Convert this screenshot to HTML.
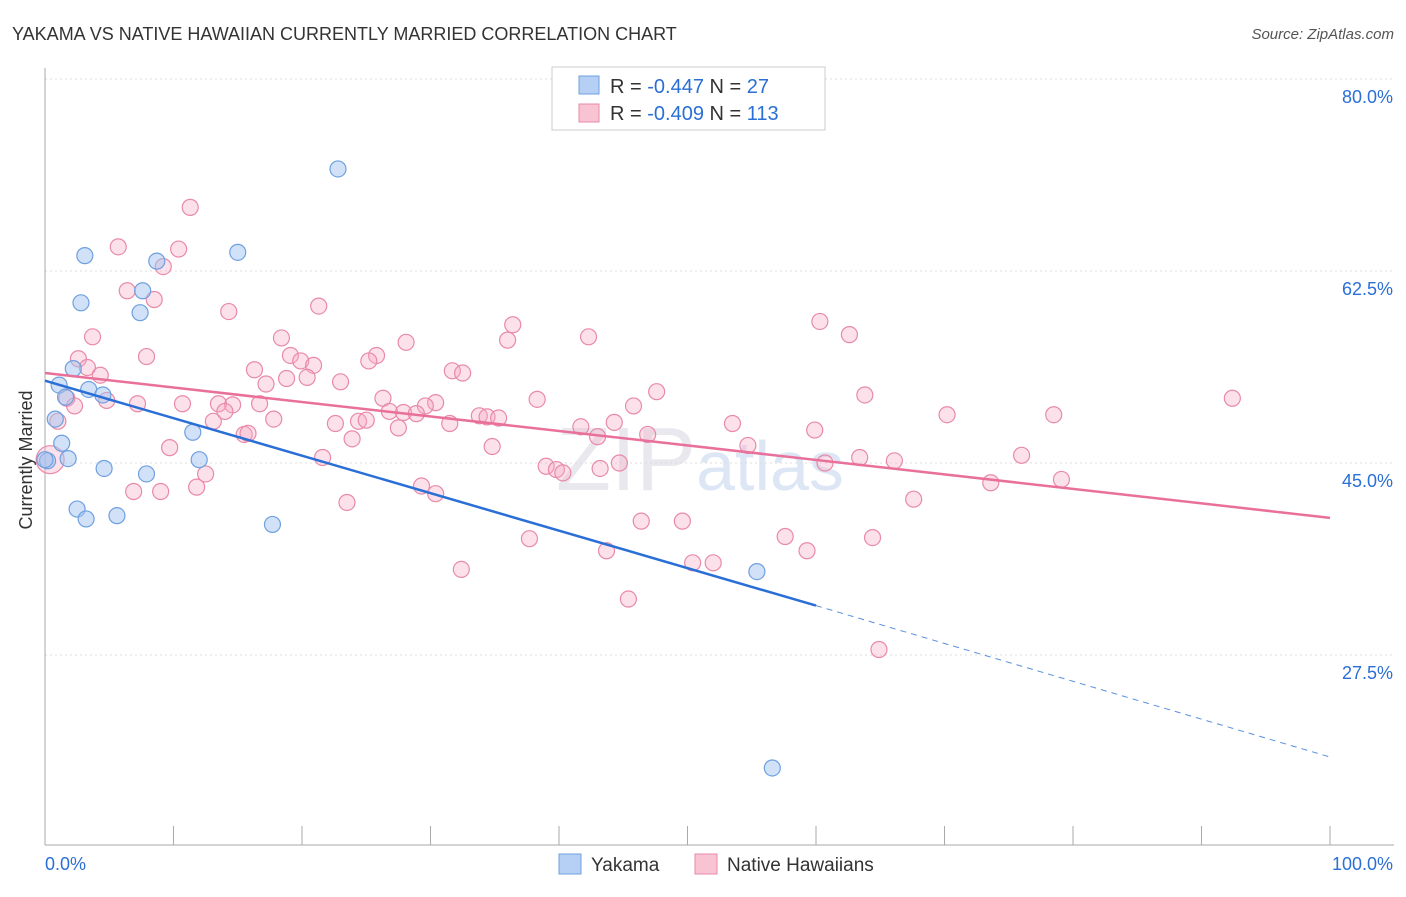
<!DOCTYPE html>
<html><head><meta charset="utf-8"><style>
body{margin:0;background:#fff;font-family:"Liberation Sans",sans-serif;}
svg text{font-family:"Liberation Sans",sans-serif;}
</style></head><body>
<svg id="chart" width="1406" height="892">
<text x="12" y="40" font-size="18" fill="#333">YAKAMA VS NATIVE HAWAIIAN CURRENTLY MARRIED CORRELATION CHART</text>
<text x="1394" y="39" font-size="15" fill="#555" text-anchor="end" font-style="italic">Source: ZipAtlas.com</text>
<text x="32" y="460" font-size="18" fill="#333" text-anchor="middle" transform="rotate(-90 32 460)">Currently Married</text>
<text x="700" y="490" font-size="90" fill="#e8e8ee" text-anchor="middle" font-family="Liberation Serif">ZIP<tspan fill="#dce6f4" font-family="Liberation Sans" font-size="70">atlas</tspan></text>
<g id="grid"></g><g id="pts"></g><g id="lines"></g>
<g>
<rect x="552" y="67" width="273" height="63" fill="#fff" stroke="#ccc"/>
<rect x="579" y="76" width="20" height="18" fill="#b5d0f4" stroke="#6fa0e0"/>
<rect x="579" y="104" width="20" height="18" fill="#f8c4d4" stroke="#e88aa8"/>
<text x="610" y="93" font-size="20" fill="#333">R = <tspan fill="#2a6fd6">-0.447</tspan>   N = <tspan fill="#2a6fd6"> 27</tspan></text>
<text x="610" y="120" font-size="20" fill="#333">R = <tspan fill="#2a6fd6">-0.409</tspan>   N = <tspan fill="#2a6fd6">113</tspan></text>
</g>
<g>
<rect x="559" y="854" width="22" height="20" fill="#b5d0f4" stroke="#6fa0e0"/>
<text x="591" y="871" font-size="19" fill="#333">Yakama</text>
<rect x="695" y="854" width="22" height="20" fill="#f8c4d4" stroke="#e88aa8"/>
<text x="727" y="871" font-size="19" fill="#333">Native Hawaiians</text>
</g>
</svg>
<script>
const yTicks=[80,62.5,45,27.5];
const yTickLabels=["80.0%","62.5%","45.0%","27.5%"];
const xTicks=[0,10,20,30,40,50,60,70,80,90,100];
const blueX=[22.8,3.1,8.7,15.0,2.8,7.6,7.4,2.2,1.1,3.4,4.5,1.6,0.8,1.3,11.5,0.2,1.8,4.6,7.9,12.0,2.5,3.2,5.6,17.7,55.4,56.6,0];
const blueY=[71.8,63.9,63.4,64.2,59.6,60.7,58.7,53.6,52.1,51.7,51.2,51.0,49.0,46.8,47.8,45.2,45.4,44.5,44.0,45.3,40.8,39.9,40.2,39.4,35.1,17.2,45.3];
const pinkX=[11.3,5.7,10.4,9.2,6.4,8.5,14.3,21.3,3.7,18.4,28.1,36.0,36.4,42.3,60.3,62.6,2.6,7.9,19.1,19.9,20.9,25.8,25.2,16.3,31.7,32.5,3.3,4.3,17.2,18.8,20.4,23.0,26.3,30.4,29.6,26.8,27.9,28.9,33.8,34.4,35.3,38.3,47.6,63.8,70.2,78.5,92.4,1.7,2.3,4.8,7.2,10.7,13.5,14.6,16.7,17.8,13.1,14.0,22.6,24.4,25.0,27.5,31.5,41.7,44.3,45.8,53.5,59.9,43.0,46.9,54.7,15.5,15.8,23.9,34.8,21.6,9.7,1.0,39.0,39.8,40.3,43.2,44.7,60.7,63.4,66.1,76.0,12.5,11.8,6.9,9.0,29.3,30.4,23.5,67.6,73.6,79.1,46.4,49.6,37.7,43.7,57.6,59.3,64.4,32.4,50.4,52.0,45.4,64.9,0.4];
const pinkY=[68.3,64.7,64.5,62.9,60.7,59.9,58.8,59.3,56.5,56.4,56.0,56.2,57.6,56.5,57.9,56.7,54.5,54.7,54.8,54.3,53.9,54.8,54.3,53.5,53.4,53.2,53.7,53.0,52.2,52.7,52.8,52.4,50.9,50.5,50.2,49.7,49.6,49.5,49.3,49.2,49.1,50.8,51.5,51.2,49.4,49.4,50.9,50.9,50.2,50.7,50.4,50.4,50.4,50.3,50.4,49.0,48.8,49.7,48.6,48.8,48.9,48.2,48.6,48.3,48.7,50.2,48.6,48.0,47.4,47.6,46.6,47.6,47.7,47.2,46.5,45.5,46.4,48.8,44.7,44.4,44.1,44.5,45.0,45.0,45.5,45.2,45.7,44.0,42.8,42.4,42.4,42.9,42.2,41.4,41.7,43.2,43.5,39.7,39.7,38.1,37.0,38.3,37.0,38.2,35.3,35.9,35.9,32.6,28.0,45.3];
const blueLine=[[0,52.5],[60,32.0]];
const blueDash=[[60,32.0],[100,18.2]];
const pinkLine=[[0,53.2],[100,40.0]];
const NS="http://www.w3.org/2000/svg";
const X=v=>45+v*12.85, Y=v=>79+(80-v)*10.971;
function mk(tag,attrs,parent){const e=document.createElementNS(NS,tag);for(const k in attrs)e.setAttribute(k,attrs[k]);parent.appendChild(e);return e;}
const grid=document.getElementById('grid');
yTicks.forEach((t,i)=>{
 const l=mk('line',{x1:45,x2:1394,y1:Y(t),y2:Y(t),stroke:'#ddd','stroke-dasharray':'2,3'},grid);
 
 
 const tx=mk('text',{x:1393,y:Y(t)+24,'font-size':18,fill:'#2a6fd6','text-anchor':'end'},grid);
 tx.textContent=yTickLabels[i];
 
 
});
const ax=mk('line',{x1:45,x2:1394,y1:845,y2:845,stroke:'#aaa'},grid);


const ay=mk('line',{x1:45,x2:45,y1:68,y2:845,stroke:'#aaa'},grid);


xTicks.forEach(t=>{
 const l=mk('line',{x1:X(t),x2:X(t),y1:826,y2:845,stroke:'#aaa'},grid);
 
 
});
const xl0=mk('text',{x:45,y:870,'font-size':18,fill:'#2a6fd6'},grid);xl0.textContent='0.0%';


const xl1=mk('text',{x:1393,y:870,'font-size':18,fill:'#2a6fd6','text-anchor':'end'},grid);xl1.textContent='100.0%';


const pts=document.getElementById('pts');
pinkX.forEach((x,i)=>{
 const c=mk('circle',{cx:X(x),cy:Y(pinkY[i]),r:(i==pinkX.length-1?14:8),fill:'rgba(245,170,195,0.35)',stroke:'#e88aa8','stroke-width':1.2},pts);
 
 
});
blueX.forEach((x,i)=>{
 const c=mk('circle',{cx:X(x),cy:Y(blueY[i]),r:8,fill:'rgba(164,196,240,0.5)',stroke:'#6fa0e0','stroke-width':1.2},pts);
 
 
});
const lines=document.getElementById('lines');
const pl=mk('line',{x1:X(pinkLine[0][0]),y1:Y(pinkLine[0][1]),x2:X(pinkLine[1][0]),y2:Y(pinkLine[1][1]),stroke:'#e8709a','stroke-width':2.5},lines);


const bl=mk('line',{x1:X(blueLine[0][0]),y1:Y(blueLine[0][1]),x2:X(blueLine[1][0]),y2:Y(blueLine[1][1]),stroke:'#2a6fd6','stroke-width':2.5},lines);


const bd=mk('line',{x1:X(blueDash[0][0]),y1:Y(blueDash[0][1]),x2:X(blueDash[1][0]),y2:Y(blueDash[1][1]),stroke:'#5a8fe0','stroke-width':1,'stroke-dasharray':'6,5'},lines);


</script>
</body></html>
